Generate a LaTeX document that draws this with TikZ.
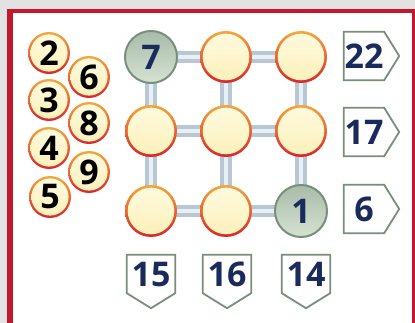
\documentclass[tikz,border=0pt]{standalone}
\usepackage{fontspec}
\setmainfont{Open Sans}
\usetikzlibrary{backgrounds}
\definecolor{framered}{HTML}{C3172B}
\definecolor{outergray}{HTML}{E2E2E2}
\definecolor{ringtop}{HTML}{F4A83A}
\definecolor{ringbot}{HTML}{D9242A}
\definecolor{creamtop}{HTML}{FFFAE0}
\definecolor{creambot}{HTML}{FBF0B8}
\definecolor{sagetop}{HTML}{A8BCA8}
\definecolor{sagebot}{HTML}{D6E2D2}
\definecolor{sageline}{HTML}{7A8E7E}
\definecolor{navy}{HTML}{1B2A5C}
\definecolor{baredge}{HTML}{B7C8D4}
\definecolor{barmid}{HTML}{E9F0F5}

\begin{document}
\begin{tikzpicture}[x=1pt, y=-1pt,
    num/.style={font=\bfseries\fontsize{34}{34}\selectfont},
    cell/.style={circle, minimum size=52pt, inner sep=0pt, num, text=navy,
        top color=ringtop, bottom color=ringbot,
        path picture={\shade[top color=creamtop, bottom color=creambot] (path picture bounding box.center) circle (23.3pt);}},
    given/.style={circle, minimum size=52pt, inner sep=0pt, num, text=navy,
        draw=sageline, line width=2pt, top color=sagetop, bottom color=sagebot},
    pool/.style={circle, minimum size=42pt, inner sep=0pt, num, text=black,
        top color=ringtop, bottom color=ringbot,
        path picture={\shade[top color=creamtop, bottom color=creambot] (path picture bounding box.center) circle (18.6pt);}},
    rowsum/.style={minimum width=40pt, minimum height=48pt, inner sep=0pt, num, text=navy},
    colsum/.style={minimum width=48pt, minimum height=38pt, inner sep=0pt, num, text=navy, text depth=-7pt},
    boxline/.style={draw=sageline, line width=1.8pt, fill=white, line join=miter},
    bar/.style={line width=12pt, color=baredge},
    barhl/.style={line width=4.5pt, color=barmid}
]
\useasboundingbox (0,0) rectangle (415,323);
\begin{scope}[on background layer]
\fill[outergray] (0,0) rectangle (415,323);
\fill[white] (10,11) rectangle (415,340);
\end{scope}
\draw[framered, line width=4.5pt] (9.8,11) -- (414.5,11) -- (414.5,340);
\draw[framered, line width=5.5pt] (9.8,8.8) -- (9.8,340);

\node[pool] (p2) at (49,53) {2};
\node[pool] (p6) at (89,77) {6};
\node[pool] (p3) at (49,100) {3};
\node[pool] (p8) at (89,123) {8};
\node[pool] (p4) at (49,148) {4};
\node[pool] (p9) at (89,172) {9};
\node[pool] (p5) at (50,197) {5};

\node[given] (c11) at (151,57) {7};
\node[cell] (c12) at (226,57) {};
\node[cell] (c13) at (301,57) {};
\node[cell] (c21) at (151,131) {};
\node[cell] (c22) at (226,131) {};
\node[cell] (c23) at (301,131) {};
\node[cell] (c31) at (151,211) {};
\node[cell] (c32) at (226,211) {};
\node[given] (c33) at (301,211) {1};

\node[rowsum] (r1) at (364,56) {22};
\node[rowsum] (r2) at (364,132) {17};
\node[rowsum] (r3) at (364,209) {6};
\node[colsum] (s1) at (151,274) {15};
\node[colsum] (s2) at (227,274) {16};
\node[colsum] (s3) at (306,274) {14};

\begin{scope}[on background layer]
\foreach \a/\b in {c11/c12,c12/c13,c21/c22,c22/c23,c31/c32,c32/c33,c11/c21,c21/c31,c12/c22,c22/c32,c13/c23,c23/c33}
{
    \draw[bar] (\a.center) -- (\b.center);
    \draw[barhl] (\a.center) -- (\b.center);
}
\foreach \n in {r1,r2,r3}
    \draw[boxline] (\n.north west) -- (\n.north east) -- ([xshift=15pt]\n.east) -- (\n.south east) -- (\n.south west) -- cycle;
\foreach \n in {s1,s2,s3}
    \draw[boxline] (\n.north west) -- (\n.north east) -- (\n.south east) -- ([yshift=-15pt]\n.south) -- (\n.south west) -- cycle;
\end{scope}
\end{tikzpicture}
\end{document}
